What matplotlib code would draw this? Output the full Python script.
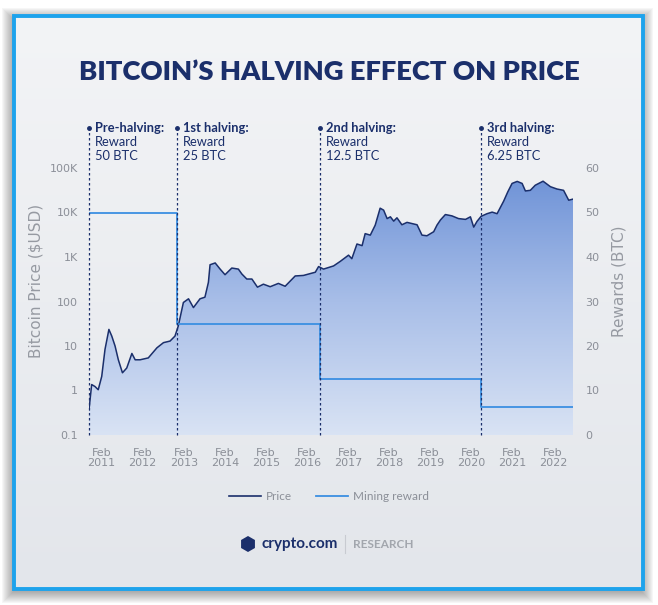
import numpy as np
import matplotlib
matplotlib.use("Agg")
from matplotlib import pyplot as plt
from matplotlib.patches import Rectangle, PathPatch, RegularPolygon
from matplotlib.lines import Line2D
from matplotlib.colors import LinearSegmentedColormap
import matplotlib.transforms as mtransforms

# price trace (decimal years, USD)
years = [2010.775, 2010.84, 2010.92, 2011.0, 2011.085, 2011.165, 2011.26, 2011.33,
         2011.41, 2011.49, 2011.59, 2011.695, 2011.82, 2011.90, 2012.02, 2012.22,
         2012.43, 2012.59, 2012.75, 2012.87, 2012.95, 2013.075, 2013.20, 2013.32,
         2013.48, 2013.60, 2013.685, 2013.725, 2013.85, 2013.97, 2014.09, 2014.255,
         2014.415, 2014.50, 2014.62, 2014.745, 2014.88, 2015.025, 2015.19, 2015.39,
         2015.555, 2015.80, 2016.00, 2016.29, 2016.37, 2016.49, 2016.735, 2016.90,
         2017.10, 2017.18, 2017.305, 2017.43, 2017.505, 2017.63, 2017.75, 2017.87,
         2017.955, 2018.04, 2018.12, 2018.20, 2018.28, 2018.40, 2018.525, 2018.77,
         2018.89, 2019.01, 2019.175, 2019.255, 2019.34, 2019.46, 2019.62, 2019.78,
         2019.95, 2020.07, 2020.15, 2020.23, 2020.33, 2020.475, 2020.60, 2020.72,
         2020.88, 2020.98, 2021.085, 2021.21, 2021.33, 2021.41, 2021.53, 2021.65,
         2021.84, 2022.02, 2022.18, 2022.34, 2022.465, 2022.57]
price = [0.37, 1.36, 1.23, 1.04, 2.07, 8.4, 23.6, 16.7,
         10, 4.9, 2.5, 3.2, 6.8, 4.9, 4.9, 5.4,
         9.1, 11.9, 12.9, 16.7, 28, 95, 115, 73,
         115, 125, 270, 670, 735, 535, 400, 565,
         535, 415, 320, 320, 210, 245, 215, 255,
         220, 375, 385, 455, 610, 535, 630, 800,
         1100, 915, 1960, 1800, 3350, 3100, 5200, 12500,
         11300, 7300, 8000, 6400, 7600, 5300, 6000, 5300,
         3100, 3000, 3700, 5200, 6800, 9000, 8400, 7300,
         7000, 8000, 4700, 6300, 8200, 9400, 10200, 9400,
         18000, 29000, 45000, 50000, 45000, 30500, 31500, 41000,
         50500, 38000, 33700, 31500, 18900, 20000]

# halvings (decimal years) and block rewards
halving_years = [2010.775, 2012.91, 2016.40, 2020.32]
halving_names = ["Pre-halving:", "1st halving:", "2nd halving:", "3rd halving:"]
halving_rewards = ["50 BTC", "25 BTC", "12.5 BTC", "6.25 BTC"]
reward_values = [50, 25, 12.5, 6.25]
x_end = 2022.57

tick_years = list(range(2011, 2023))
price_ticks = [0.1, 1, 10, 100, 1000, 10000, 100000]
price_labels = ["0.1", "1", "10", "100", "1K", "10K", "100K"]
reward_ticks = [0, 10, 20, 30, 40, 50, 60]

NAVY = "#1b2f6b"
LIGHTBLUE = "#3b8fe2"
GRAY = "#8b8f98"
AXFONT = "DejaVu Sans"

plt.rcParams["font.family"] = ["Lato", "DejaVu Sans"]

W, H = 658, 605
fig = plt.figure(figsize=(W / 100, H / 100), dpi=100)
fig.patch.set_facecolor("white")

def fx(px):
    return px / W

def fy(py):
    return 1 - py / H

# shadow + card background
bg = fig.add_axes([0, 0, 1, 1], zorder=-10)
bg.axis("off")
for i in range(12):
    bg.add_patch(Rectangle((14 - i - 1, 16 - i + 3), 629 + 2 * i, 573 + 2 * i,
                           facecolor="#444444", edgecolor="none", alpha=0.045))
card = np.linspace(0, 1, 256).reshape(-1, 1)
card_cmap = LinearSegmentedColormap.from_list("card", ["#f3f4f6", "#e3e6eb"])
bg.imshow(card, extent=[14, 643, 589, 16], cmap=card_cmap, aspect="auto", zorder=1)
bg.add_patch(Rectangle((14, 16), 629, 573, facecolor="none",
                       edgecolor="#1ea3ec", lw=2.8, zorder=2))
bg.set_xlim(0, W)
bg.set_ylim(H, 0)

# title
fig.text(0.5, fy(72), "BITCOIN\u2019S HALVING EFFECT ON PRICE", ha="center", va="center",
         fontsize=19.7, fontweight="heavy", color=NAVY)

# main axes
ax = fig.add_axes([fx(89), fy(435), fx(484), 267 / H])
ax.set_facecolor("none")
ax.set_yscale("log")

coll = ax.fill_between(years, 0.1, price, facecolor="none", edgecolor="none")
clip = PathPatch(coll.get_paths()[0], transform=ax.transData, facecolor="none", edgecolor="none")
ax.add_patch(clip)
grad = np.linspace(1, 0, 256).reshape(-1, 1)
fill_cmap = LinearSegmentedColormap.from_list("fill", ["#d9e3f4", "#a8bee8", "#6b90d6"])
im = ax.imshow(grad, extent=[0, 1, 0, 1], transform=ax.transAxes, aspect="auto",
               cmap=fill_cmap, zorder=1)
im.set_clip_path(clip)
ax.plot(years, price, color=NAVY, lw=1.1, zorder=3)

ax.set_xlim(halving_years[0], x_end)
ax.set_ylim(0.1, 100000)
ax.set_yticks(price_ticks)
ax.set_yticklabels(price_labels)
ax.yaxis.set_minor_locator(matplotlib.ticker.NullLocator())
ax.set_xticks([y + 1 / 12 for y in tick_years])
ax.set_xticklabels(["Feb\n%d" % y for y in tick_years], linespacing=1.1)
ax.tick_params(length=0, labelsize=8, colors=GRAY, pad=8)
ax.tick_params(axis="x", pad=9)
for lab in ax.get_xticklabels() + ax.get_yticklabels():
    lab.set_family(AXFONT)
for s in ax.spines.values():
    s.set_visible(False)

# rewards axis
ax2 = ax.twinx()
ax2.set_facecolor("none")
step_x = halving_years + [x_end]
step_y = reward_values + [reward_values[-1]]
ax2.step(step_x, step_y, where="post", color=LIGHTBLUE, lw=1.3, zorder=4)
ax2.set_ylim(0, 60)
ax2.set_xlim(halving_years[0], x_end)
ax2.set_yticks(reward_ticks)
ax2.tick_params(length=0, labelsize=8, colors=GRAY, pad=9)
for lab in ax2.get_yticklabels():
    lab.set_family(AXFONT)
for s in ax2.spines.values():
    s.set_visible(False)

fig.text(fx(36), fy(281), "Bitcoin Price ($USD)", rotation=90, ha="center", va="center",
         fontsize=11, color="#969aa2", family=AXFONT)
fig.text(fx(619), fy(281), "Rewards (BTC)", rotation=90, ha="center", va="center",
         fontsize=11, color="#969aa2", family=AXFONT)

# halving markers and notes
trans = mtransforms.blended_transform_factory(ax.transData, ax.transAxes)
top = (435 - 128) / 267
for hx, name, rew in zip(halving_years, halving_names, halving_rewards):
    ax2.plot([hx, hx], [0, top], transform=trans, color=NAVY, lw=0.9,
             ls=(0, (2, 2)), clip_on=False, zorder=5)
    ax2.plot([hx], [top], transform=trans, marker="o", ms=2.5, color=NAVY,
             clip_on=False, zorder=5)
    tx = mtransforms.offset_copy(trans, fig=fig, x=6, y=0, units="dots")
    ax2.text(hx, top, name, transform=tx, fontsize=9.3, fontweight="bold",
             color=NAVY, va="center", ha="left")
    ax2.text(hx, top - 14 / 267, "Reward", transform=tx, fontsize=9.3,
             color=NAVY, va="center", ha="left")
    ax2.text(hx, top - 28 / 267, rew, transform=tx, fontsize=9.3,
             color=NAVY, va="center", ha="left")

# legend
handles = [Line2D([], [], color=NAVY, lw=1.2), Line2D([], [], color=LIGHTBLUE, lw=1.3)]
fig.legend(handles, ["Price", "Mining reward"], loc="center", bbox_to_anchor=(fx(329), fy(497)),
           ncol=2, frameon=False, fontsize=8.5, labelcolor=GRAY, handlelength=2.7,
           handletextpad=0.45, columnspacing=2.0)

# footer
bg.add_patch(RegularPolygon((248, 544), 6, radius=8, facecolor=NAVY, edgecolor="none", zorder=3))
bg.text(262, 544, "crypto.com", fontsize=11, fontweight="bold", color=NAVY,
        va="center", ha="left", zorder=3)
bg.plot([345, 345], [535, 553], color="#c8cbd1", lw=0.8, zorder=3)
bg.text(353, 545, "RESEARCH", fontsize=8.5, fontweight="bold", color="#a2a6ad",
        va="center", ha="left", zorder=3)

fig.savefig("out.png", dpi=100)
